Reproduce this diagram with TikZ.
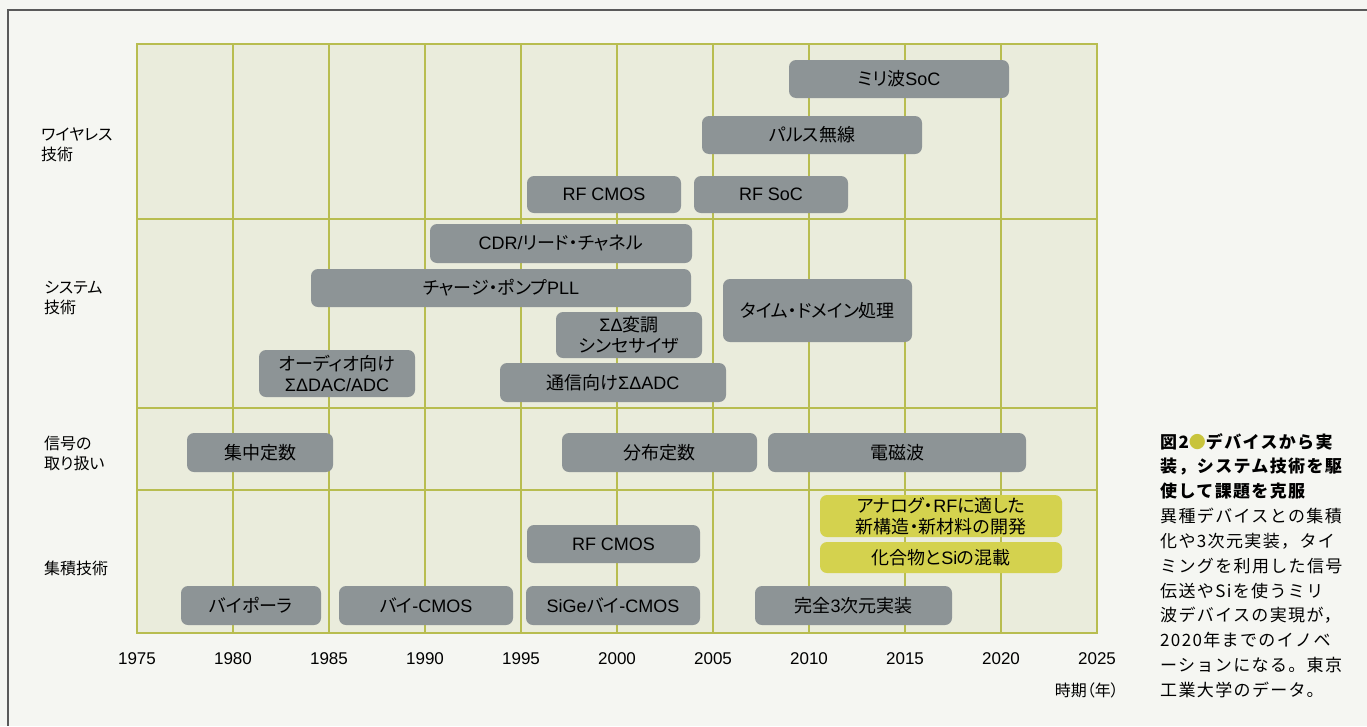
\documentclass[tikz,border=0pt]{standalone}
\usepackage{fontspec}
\newfontfamily\jp{Noto Sans CJK JP}[RawFeature=+palt]
\newfontfamily\jpcap{Noto Sans CJK JP}[LetterSpace=8]
\newfontfamily\lat{Liberation Sans}
\definecolor{pagebg}{RGB}{245,246,242}
\definecolor{gridbg}{RGB}{234,236,220}
\definecolor{gridc}{RGB}{184,189,80}
\definecolor{boxgray}{RGB}{141,148,150}
\definecolor{ylw}{RGB}{212,210,78}
\definecolor{dotc}{RGB}{200,196,60}
\definecolor{framec}{RGB}{90,90,90}
\newcommand\tbox[7]{\node[#1, minimum width={#4-#2}, minimum height={#5-#3}] (#6) at ({(#2+#4)/2},{(#3+#5)/2}) {#7};}
\begin{document}
\begin{tikzpicture}[x=1pt,y=-1pt,
  gbox/.style={fill=boxgray, rounded corners=7pt, inner sep=0pt, align=center, text=black, font=\jp\fontsize{18}{21}\selectfont},
  ybox/.style={gbox, fill=ylw},
  rowlab/.style={anchor=west, inner sep=0pt, align=left, font=\jp\fontsize{16}{20}\selectfont},
  yearlab/.style={inner sep=0pt, font=\lat\fontsize{17}{20}\selectfont},
  gline/.style={draw=gridc, line width=1.3pt},
  capline/.style={anchor=west, inner sep=0pt, font=\jpcap\fontsize{17}{25}\selectfont}]
\useasboundingbox (0,0) rectangle (1367,726);
\fill[pagebg] (0,0) rectangle (1367,726);
% frame
\draw[framec, line width=1.3pt] (1367,10) -- (8,10) -- (8,726);
% grid
\fill[gridbg] (137,44) rectangle (1097,633);
\foreach \k in {1,...,9} \draw[gline] ({137+96*\k},44) -- ({137+96*\k},633);
\foreach \yy in {219,408,490} \draw[gline] (137,\yy) -- (1097,\yy);
\draw[gline, line width=1.8pt] (137,44) rectangle (1097,633);
% years
\foreach \k/\yr in {0/1975,1/1980,2/1985,3/1990,4/1995,5/2000,6/2005,7/2010,8/2015,9/2020,10/2025}
  \node[yearlab] (yr\yr) at ({137+96*\k},659) {\yr};
\node[anchor=east, inner sep=0pt, font=\jp\fontsize{16}{20}\selectfont] (axis) at (1119,690) {時期（年）};
% row labels
\node[rowlab] (rw) at (41,145) {ワイヤレス\\技術};
\node[rowlab] (rs) at (44,298) {システム\\技術};
\node[rowlab] (rg) at (44,453) {信号の\\取り扱い};
\node[rowlab] (ri) at (44,568) {集積技術};
% boxes
\tbox{gbox}{789}{60}{1009}{98}{mmw}{ミリ波{\lat SoC}}
\tbox{gbox}{702}{116}{922}{154}{pulse}{パルス無線}
\tbox{gbox}{527}{176}{681}{213}{rfcmosA}{\lat RF CMOS}
\tbox{gbox}{694}{176}{848}{213}{rfsoc}{\lat RF SoC}
\tbox{gbox}{430}{224}{692}{263}{cdr}{{\lat CDR/}リード・チャネル}
\tbox{gbox}{311}{269}{691}{307}{pll}{チャージ・ポンプ{\lat PLL}}
\tbox{gbox}{556}{312}{702}{358}{sdmod}{{\lat ΣΔ}変調\\シンセサイザ}
\tbox{gbox}{723}{279}{912}{342}{tdp}{タイム・ドメイン処理}
\tbox{gbox}{259}{350}{415}{397}{audio}{オーディオ向け\\{\lat ΣΔDAC/ADC}}
\tbox{gbox}{500}{363}{726}{402}{comm}{通信向け{\lat ΣΔADC}}
\tbox{gbox}{187}{433}{333}{472}{lumped}{集中定数}
\tbox{gbox}{562}{433}{757}{472}{dist}{分布定数}
\tbox{gbox}{768}{433}{1026}{472}{em}{電磁波}
\tbox{ybox}{820}{495}{1062}{537}{analog}{アナログ・{\lat RF}に適した\\新構造・新材料の開発}
\tbox{ybox}{820}{542}{1062}{573}{compound}{化合物と{\lat Si}の混載}
\tbox{gbox}{527}{525}{700}{563}{rfcmosB}{\lat RF CMOS}
\tbox{gbox}{181}{586}{321}{625}{bipolar}{バイポーラ}
\tbox{gbox}{339}{586}{513}{625}{bicmos}{バイ{\lat -CMOS}}
\tbox{gbox}{526}{586}{700}{625}{sige}{{\lat SiGe}バイ{\lat -CMOS}}
\tbox{gbox}{755}{586}{952}{625}{threed}{完全{\lat 3}次元実装}
% caption
\node[capline] (cap1) at (1160,442) {\bfseries 図2\textcolor{dotc}{●}デバイスから実};
\node[capline] (cap2) at (1160,467) {\bfseries 装，システム技術を駆};
\node[capline] (cap3) at (1160,491) {\bfseries 使して課題を克服};
\node[capline] (cap4) at (1160,516) {異種デバイスとの集積};
\node[capline] (cap5) at (1160,541) {化や3次元実装，タイ};
\node[capline] (cap6) at (1160,566) {ミングを利用した信号};
\node[capline] (cap7) at (1160,591) {伝送やSiを使うミリ};
\node[capline] (cap8) at (1160,615) {波デバイスの実現が，};
\node[capline] (cap9) at (1160,640) {2020年までのイノベ};
\node[capline] (cap10) at (1160,665) {ーションになる。東京};
\node[capline] (cap11) at (1160,690) {工業大学のデータ。};
\end{tikzpicture}
\end{document}
